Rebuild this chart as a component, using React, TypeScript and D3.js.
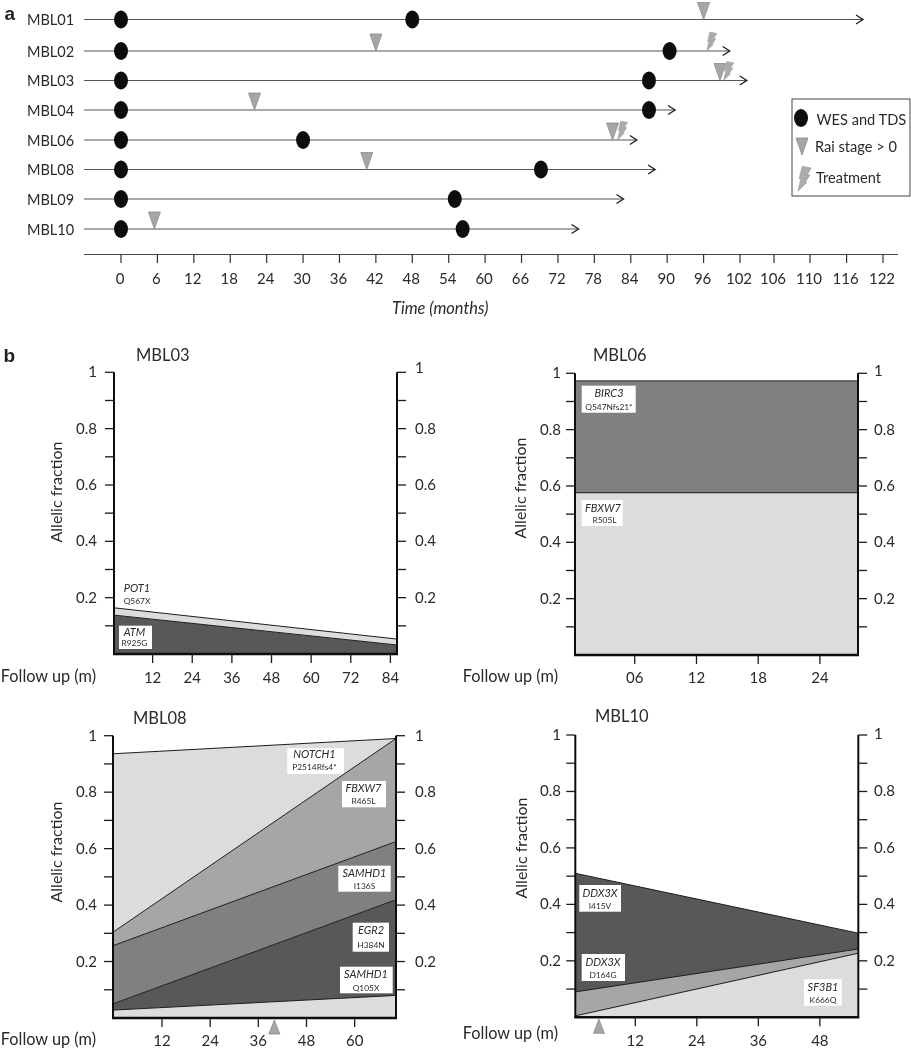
import React from "react";
import * as d3 from "d3";

// ---------- Panel a data ----------
const patients = ["MBL01", "MBL02", "MBL03", "MBL04", "MBL06", "MBL08", "MBL09", "MBL10"];
const wesMonths = [[0, 48], [0, 90.4], [0, 87], [0, 87], [0, 30], [0, 69.2], [0, 55], [0, 56.3]];
const raiMonths = [[96], [42], [98.7], [22], [81], [40.5], [], [5.5]];
const treatMonths = [[], [96.5], [99.3], [], [81.8], [], [], []];
const followEnd = [118.7, 100.3, 102.8, 91.3, 85, 88, 82.8, 75.4];
const timeTicks = [0, 6, 12, 18, 24, 30, 36, 42, 48, 54, 60, 66, 72, 78, 84, 90, 96, 102, 106, 110, 116, 122];

// ---------- Panel b data ----------
const yTicks = [0.1, 0.2, 0.3, 0.4, 0.5, 0.6, 0.7, 0.8, 0.9, 1];
const yLabelled = [0.2, 0.4, 0.6, 0.8, 1];

const mbl03Ticks = [12, 24, 36, 48, 60, 72, 84];
const mbl03Upper = [[0.138, 0.032], [0.164, 0.053]];
const mbl03Tones = ["#595959", "#dcdcdc"];
const mbl03Genes = [["ATM", "R925G"], ["POT1", "Q567X"]];

const mbl06Ticks = [6, 12, 18, 24];
const mbl06TickText = ["06", "12", "18", "24"];
const mbl06Upper = [[0.576, 0.576], [0.973, 0.973]];
const mbl06Tones = ["#dcdcdc", "#808080"];
const mbl06Genes = [["FBXW7", "R505L"], ["BIRC3", "Q547Nfs21*"]];

const mbl08Ticks = [12, 24, 36, 48, 60];
const mbl08Upper = [[0.028, 0.08], [0.05, 0.419], [0.256, 0.625], [0.304, 0.99], [0.936, 0.99]];
const mbl08Tones = ["#dcdcdc", "#595959", "#808080", "#a6a6a6", "#dcdcdc"];
const mbl08Genes = [["SAMHD1", "Q105X"], ["EGR2", "H384N"], ["SAMHD1", "I136S"], ["FBXW7", "R465L"], ["NOTCH1", "P2514Rfs4*"]];
const mbl08Rai = [40];

const mbl10Ticks = [12, 24, 36, 48];
const mbl10Upper = [[0.005, 0.227], [0.09, 0.242], [0.51, 0.298]];
const mbl10Tones = ["#dcdcdc", "#a6a6a6", "#595959"];
const mbl10Genes = [["SF3B1", "K666Q"], ["DDX3X", "D164G"], ["DDX3X", "I415V"]];
const mbl10Rai = [4.9];

// ---------- Layout ----------
const FONT = "Lato, 'Open Sans', sans-serif";
const INK = "#2a2a2a";
const rowY = [19.5, 51, 80.5, 110, 140, 169.5, 199, 229];
const timeX = d3.scaleLinear().domain([0, 102, 106, 110, 116, 122]).range([121, 740, 774, 810, 846.6, 883]);

const boltPath = "M0,0 L2.2,-9.5 L0.9,-9.5 L3.2,-19 L10.2,-17.6 L7,-12.4 L9.3,-12.4 L5.6,-6.8 L6.9,-6.8 Z";

type Box = { x0: number; x1: number; y0: number; y1: number; cx: number; cx2?: number; b1: number; b2: number; plain?: boolean };
type PanelDef = {
  title: string; titleX: number; titleY: number;
  x0: number; x1: number; top: number; bottom: number; xZero: number; xMax: number;
  ticks: number[]; tickText?: string[]; upper: number[][]; tones: string[]; genes: string[][];
  boxes: Box[]; rai?: number[];
  yLabelX: number; yLabelY: number; followEndX: number; followY: number; tickBase: number;
  leftLabelX: number; rightLabelX: number; oneDy: number;
};

const panels: PanelDef[] = [
  {
    title: "MBL03", titleX: 136, titleY: 361, x0: 114, x1: 397, top: 372.3, bottom: 654, xZero: 113, xMax: 86,
    ticks: mbl03Ticks, upper: mbl03Upper, tones: mbl03Tones, genes: mbl03Genes,
    boxes: [
      { x0: 119, x1: 152, y0: 625.7, y1: 649, cx: 134.5, b1: 635.5, b2: 645.7 },
      { x0: 0, x1: 0, y0: 0, y1: 0, cx: 137, b1: 592, b2: 604, plain: true },
    ],
    yLabelX: 62, yLabelY: 492, followEndX: 96, followY: 682, tickBase: 683,
    leftLabelX: 97, rightLabelX: 415, oneDy: -4,
  },
  {
    title: "MBL06", titleX: 593, titleY: 361, x0: 575, x1: 858, top: 373.3, bottom: 655, xZero: 573, xMax: 27.7,
    ticks: mbl06Ticks, tickText: mbl06TickText, upper: mbl06Upper, tones: mbl06Tones, genes: mbl06Genes,
    boxes: [
      { x0: 581.7, x1: 622.7, y0: 500, y1: 526, cx: 603, cx2: 604.5, b1: 511.7, b2: 523 },
      { x0: 581.7, x1: 635.7, y0: 385.7, y1: 412.7, cx: 609, b1: 397, b2: 410 },
    ],
    yLabelX: 526, yLabelY: 488, followEndX: 558, followY: 682, tickBase: 683,
    leftLabelX: 561, rightLabelX: 874, oneDy: -2,
  },
  {
    title: "MBL08", titleX: 133, titleY: 724, x0: 113, x1: 396, top: 735.7, bottom: 1018, xZero: 113.8, xMax: 70.3,
    ticks: mbl08Ticks, upper: mbl08Upper, tones: mbl08Tones, genes: mbl08Genes, rai: mbl08Rai,
    boxes: [
      { x0: 340, x1: 392.7, y0: 966.7, y1: 993.3, cx: 366, b1: 978.3, b2: 990.7 },
      { x0: 352.7, x1: 389, y0: 922.7, y1: 951.7, cx: 371, b1: 934.3, b2: 948.3 },
      { x0: 338.3, x1: 390.7, y0: 865.7, y1: 891.7, cx: 364.5, b1: 876.7, b2: 889 },
      { x0: 342, x1: 386, y0: 781, y1: 807.3, cx: 363.5, b1: 792, b2: 804 },
      { x0: 287.3, x1: 344, y0: 748.3, y1: 774, cx: 314.5, b1: 758.3, b2: 770 },
    ],
    yLabelX: 62, yLabelY: 852, followEndX: 96, followY: 1045, tickBase: 1046,
    leftLabelX: 97, rightLabelX: 415, oneDy: 0,
  },
  {
    title: "MBL10", titleX: 595, titleY: 722, x0: 575.3, x1: 858.3, top: 735, bottom: 1017.3, xZero: 573.8, xMax: 55.5,
    ticks: mbl10Ticks, upper: mbl10Upper, tones: mbl10Tones, genes: mbl10Genes, rai: mbl10Rai,
    boxes: [
      { x0: 804, x1: 841.7, y0: 979.3, y1: 1005.7, cx: 823, b1: 991, b2: 1002.7 },
      { x0: 581.7, x1: 625, y0: 954, y1: 981, cx: 603, b1: 966, b2: 978.3 },
      { x0: 579.3, x1: 621, y0: 885, y1: 911.7, cx: 600, b1: 896.7, b2: 909 },
    ],
    yLabelX: 527, yLabelY: 848, followEndX: 558, followY: 1039, tickBase: 1046,
    leftLabelX: 561, rightLabelX: 874, oneDy: -1,
  },
];

function Rai({ x, y, up = false }: { x: number; y: number; up?: boolean }) {
  const p = up
    ? `M${x},${y} L${x + 5.5},${y + 14} L${x - 5.5},${y + 14} Z`
    : `M${x},${y} L${x + 6},${y - 17} L${x - 6},${y - 17} Z`;
  return <path d={p} fill="#a6a6a6" stroke="#8c8c8c" strokeWidth={0.8} />;
}

function Bolt({ x, y, s = 1 }: { x: number; y: number; s?: number }) {
  return (
    <path d={boltPath} transform={`translate(${x},${y}) scale(${s})`} fill="#ababab" stroke="#9a9a9a" strokeWidth={0.5} />
  );
}

function Panel({ p }: { p: PanelDef }) {
  const x = d3.scaleLinear().domain([0, p.xMax]).range([p.xZero, p.x1]);
  const y = d3.scaleLinear().domain([0, 1]).range([p.bottom, p.top]);
  const edge = d3.scaleLinear().domain([0, 1]).range([p.x0, p.x1]);
  const area = d3.area<number>().x((_, i) => edge(i)).y1((d) => y(d));
  const line = d3.line<number>().x((_, i) => edge(i)).y((d) => y(d));

  return (
    <g>
      <text x={p.titleX} y={p.titleY} fontSize={16.5} fill={INK}>{p.title}</text>
      <text transform={`translate(${p.yLabelX},${p.yLabelY}) rotate(-90)`} textAnchor="middle" fontSize={16} fill={INK}>Allelic fraction</text>
      <text x={p.followEndX} y={p.followY} textAnchor="end" fontSize={16.3} fill={INK}>Follow up (m)</text>

      {p.upper.map((u, i) => {
        const lower = i === 0 ? [0, 0] : p.upper[i - 1];
        const a = area.y0((_, k) => y(lower[k]))(u) as string;
        return <path key={i} d={a} fill={p.tones[i]} />;
      })}
      {p.upper.map((u, i) => (
        <path key={i} d={line(u) as string} fill="none" stroke="#1c1c1c" strokeWidth={1} />
      ))}

      {yTicks.map((t) => (
        <g key={t} stroke="#1c1c1c" strokeWidth={1.3}>
          <line x1={p.x0 - 9} x2={p.x0} y1={y(t)} y2={y(t)} />
          <line x1={p.x1} x2={p.x1 + 9} y1={y(t)} y2={y(t)} />
        </g>
      ))}
      {yLabelled.map((t) => (
        <g key={t} fontSize={15} fill={INK}>
          <text x={p.leftLabelX} y={y(t) + 5} textAnchor="end">{t === 1 ? "1" : t.toFixed(1)}</text>
          <text x={p.rightLabelX} y={y(t) + 5 + (t === 1 ? p.oneDy : 0)}>{t === 1 ? "1" : t.toFixed(1)}</text>
        </g>
      ))}

      <line x1={p.x0} x2={p.x0} y1={p.top} y2={p.bottom} stroke="#111" strokeWidth={2} />
      <line x1={p.x1} x2={p.x1} y1={p.top} y2={p.bottom} stroke="#111" strokeWidth={2} />
      <line x1={p.x0 - 1} x2={p.x1 + 1} y1={p.bottom} y2={p.bottom} stroke="#111" strokeWidth={2.4} />

      {p.ticks.map((t, i) => (
        <g key={t}>
          <line x1={x(t)} x2={x(t)} y1={p.bottom} y2={p.bottom + 9} stroke="#1c1c1c" strokeWidth={1.3} />
          <text x={x(t)} y={p.tickBase} textAnchor="middle" fontSize={15} fill={INK}>{p.tickText ? p.tickText[i] : t}</text>
        </g>
      ))}
      {(p.rai ?? []).map((m) => <Rai key={m} x={x(m)} y={p.bottom + 2} up />)}

      {p.boxes.map((b, i) => (
        <g key={i}>
          {!b.plain && <rect x={b.x0} y={b.y0} width={b.x1 - b.x0} height={b.y1 - b.y0} fill="#fff" />}
          <text x={b.cx} y={b.b1} textAnchor="middle" fontSize={11} fontStyle="italic" fill={INK}>{p.genes[i][0]}</text>
          <text x={b.cx2 ?? b.cx} y={b.b2} textAnchor="middle" fontSize={8.4} fill={INK}>{p.genes[i][1]}</text>
        </g>
      ))}
    </g>
  );
}

export default function App() {
  return (
    <svg width={911} height={1050} viewBox="0 0 911 1050" fontFamily={FONT}
      style={{ position: "absolute", left: 0, top: 0, display: "block" }}>
      <defs>
        <filter id="soft" x="0" y="0" width="100%" height="100%" filterUnits="userSpaceOnUse" primitiveUnits="userSpaceOnUse">
          <feGaussianBlur stdDeviation={0.35} />
        </filter>
      </defs>
      <rect width={911} height={1050} fill="#fff" />
      <g filter="url(#soft)">
        <text x={4.5} y={20} fontSize={19} fontWeight={700} fontFamily="'Liberation Sans', Arial, sans-serif" fill="#222">a</text>
        <text x={3.5} y={362} fontSize={19} fontWeight={700} fontFamily="'Liberation Sans', Arial, sans-serif" fill="#222">b</text>

        {patients.map((name, i) => {
          const yy = rowY[i];
          const xe = timeX(followEnd[i]);
          return (
            <g key={name}>
              <text x={27} y={yy + 5.5} fontSize={14.5} fill={INK}>{name}</text>
              <line x1={84} x2={xe} y1={yy} y2={yy} stroke="#555" strokeWidth={1.2} />
              <path d={`M${xe - 7},${yy - 4.5} L${xe},${yy} L${xe - 7},${yy + 4.5}`} fill="none" stroke="#222" strokeWidth={1.4} />
              {raiMonths[i].map((m) => <Rai key={m} x={timeX(m)} y={yy} />)}
              {treatMonths[i].map((m) => <Bolt key={m} x={timeX(m)} y={yy} />)}
              {wesMonths[i].map((m) => <ellipse key={m} cx={timeX(m)} cy={yy} rx={7} ry={9} fill="#0e0e0e" />)}
            </g>
          );
        })}

        <line x1={84} x2={898} y1={254.5} y2={254.5} stroke="#444" strokeWidth={1.2} />
        {timeTicks.map((t) => (
          <g key={t}>
            <line x1={timeX(t)} x2={timeX(t)} y1={254.5} y2={263} stroke="#333" strokeWidth={1.2} />
            <text x={timeX(t) - 1} y={284} textAnchor="middle" fontSize={15} fill={INK}>{t}</text>
          </g>
        ))}
        <text x={392} y={314} fontSize={16.4} fontStyle="italic" fill={INK}>Time (months)</text>

        <rect x={792} y={99} width={118} height={97} fill="#fff" stroke="#444" strokeWidth={1} />
        <ellipse cx={801} cy={118} rx={7} ry={9} fill="#0e0e0e" />
        <text x={816.5} y={125} fontSize={14.6} fill={INK}>WES and TDS</text>
        <Rai x={802} y={155} />
        <text x={815} y={152} fontSize={14.6} fill={INK}>Rai stage &gt; 0</text>
        <Bolt x={798} y={191} s={1.3} />
        <text x={816} y={183} fontSize={14.6} fill={INK}>Treatment</text>

        {panels.map((p) => <Panel key={p.title} p={p} />)}
      </g>
    </svg>
  );
}
